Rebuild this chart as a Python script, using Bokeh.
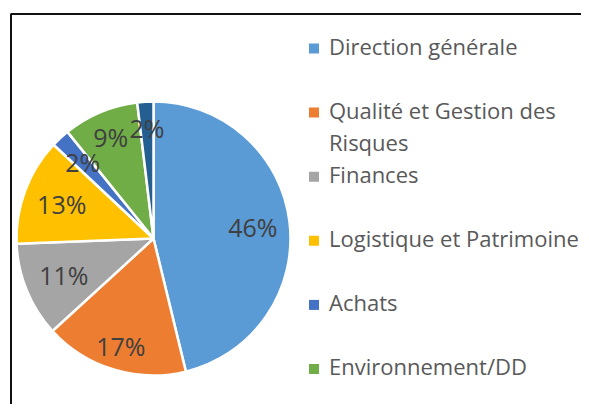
import math
import textwrap
from bokeh.plotting import figure
from bokeh.models import Range1d, ColumnDataSource
from bokeh.core.properties import value
from bokeh.embed import file_html
from bokeh.resources import INLINE

# ---- data ----
categories = ["Direction générale", "Qualité et Gestion des Risques", "Finances",
              "Logistique et Patrimoine", "Achats", "Environnement/DD", "Autres"]
shares = [46.2, 17.0, 11.2, 12.6, 2.2, 8.9, 1.9]
colors = ["#5B9BD5", "#ED7D31", "#A5A5A5", "#FFC000", "#4472C4", "#70AD47", "#255E91"]

# ---- layout ----
W, H = 581, 404
CX, CY = 153, 238          # pie centre in figure pixels (from top-left)
R = 137
label_dist = [100, 112, 97, 98, 104, 110, 111]
FONT = "Open Sans"

p = figure(width=W, height=H, output_backend="svg", toolbar_location=None,
           x_range=Range1d(-CX, W - CX), y_range=Range1d(CY - H, CY),
           min_border=0, min_border_left=0, min_border_right=0,
           min_border_top=0, min_border_bottom=0)
p.axis.visible = False
p.grid.visible = False
p.outline_line_color = None
p.background_fill_color = "white"
p.border_fill_color = "white"

total = sum(shares)
starts, ends, lx, ly, ltxt = [], [], [], [], []
cum = 0.0
for i, s in enumerate(shares):
    a0 = cum / total
    cum += s
    a1 = cum / total
    # clockwise from 12 o'clock
    starts.append(math.pi / 2 - 2 * math.pi * a1)
    ends.append(math.pi / 2 - 2 * math.pi * a0)
    mid = math.pi / 2 - 2 * math.pi * (a0 + a1) / 2
    lx.append(label_dist[i] * math.cos(mid))
    ly.append(label_dist[i] * math.sin(mid))
    ltxt.append(f"{round(100 * s / total)}%")

src = ColumnDataSource(dict(start=starts, end=ends, color=colors))
p.wedge(x=0, y=0, radius=R, start_angle="start", end_angle="end",
        fill_color="color", line_color="white", line_width=2.5, source=src)

p.text(x=lx, y=ly, text=ltxt, text_font=value(FONT), text_font_size="25px",
       text_color="#404040", text_align="center", text_baseline="middle")

# ---- legend (manual, Excel style; entries beyond the chart area are not shown) ----
pitch = 64.1
first_center = CY - 48
n_vis = sum(1 for i in range(len(categories)) if first_center - pitch * i > CY - H + 12)
sq_y = [first_center - pitch * i for i in range(n_vis)]
txt = ["\n".join(textwrap.wrap(c, width=24)) for c in categories[:n_vis]]
p.scatter(x=[160.5] * n_vis, y=sq_y, marker="square", size=10,
          fill_color=colors[:n_vis], line_color=None)
p.text(x=[175.5] * n_vis, y=[y + 18 for y in sq_y], text=txt,
       text_font=value(FONT), text_font_size="22px", text_color="#595959",
       text_align="left", text_baseline="top", text_line_height=1.08)

# ---- chart border (left and top visible) ----
bx = -CX + 10.5
by = CY - 13.5
p.line(x=[bx, bx, W - CX + 5], y=[CY - H - 5, by, by], line_color="#111111", line_width=2)

open("out.html", "w").write(file_html(p, INLINE))
